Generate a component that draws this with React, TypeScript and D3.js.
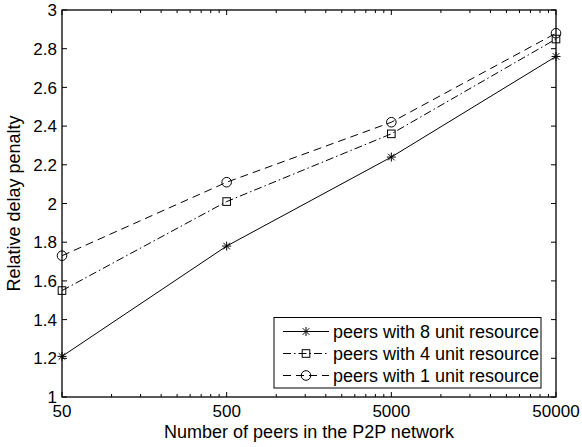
import React from "react";
import * as d3 from "d3";

const categories = [50, 500, 5000, 50000];
const xTickLabels = ["50", "500", "5000", "50000"];
const yTickValues = [1, 1.2, 1.4, 1.6, 1.8, 2, 2.2, 2.4, 2.6, 2.8, 3];
const yTickLabels = ["1", "1.2", "1.4", "1.6", "1.8", "2", "2.2", "2.4", "2.6", "2.8", "3"];
const series8 = [1.21, 1.78, 2.24, 2.76];
const series4 = [1.55, 2.01, 2.36, 2.85];
const series1 = [1.73, 2.11, 2.42, 2.88];
const seriesNames = [
  "peers with 8 unit resource",
  "peers with 4 unit resource",
  "peers with 1 unit resource",
];
const xTitle = "Number of peers in the P2P network";
const yTitle = "Relative delay penalty";

const W = 582, H = 447;
const L = 62, R = 556, T = 10, B = 397;
const FONT = "'Liberation Sans', Arial, Helvetica, sans-serif";

const x = d3.scaleLog().domain([50, 50000]).range([L, R]);
const y = d3.scaleLinear().domain([1, 3]).range([B, T]);

const minorTicks: number[] = [];
[50, 500, 5000].forEach((d) => {
  for (let k = 2; k <= 9; k++) minorTicks.push(d * k);
});

type Marker = "star" | "square" | "circle";
const seriesDefs: { values: number[]; dash: string; marker: Marker }[] = [
  { values: series8, dash: "none", marker: "star" },
  { values: series4, dash: "8,3,1.5,3", marker: "square" },
  { values: series1, dash: "8,5", marker: "circle" },
];

function MarkerShape({ type, cx, cy }: { type: Marker; cx: number; cy: number }) {
  const st = { stroke: "#000", strokeWidth: 1, fill: "none" } as const;
  if (type === "circle") return <circle cx={cx} cy={cy} r={4.8} {...st} />;
  if (type === "square") return <rect x={cx - 3.8} y={cy - 3.8} width={7.6} height={7.6} {...st} />;
  const s = 4.5, d = 3.3;
  return (
    <g {...st}>
      <line x1={cx - s} y1={cy} x2={cx + s} y2={cy} />
      <line x1={cx} y1={cy - s} x2={cx} y2={cy + s} />
      <line x1={cx - d} y1={cy - d} x2={cx + d} y2={cy + d} />
      <line x1={cx - d} y1={cy + d} x2={cx + d} y2={cy - d} />
    </g>
  );
}

export default function App() {
  const line = d3
    .line<number>()
    .x((_, i) => x(categories[i]))
    .y((v) => y(v));

  const legX0 = 274, legX1 = 541, legY0 = 317.5, legY1 = 388;
  const rowY = [331.5, 353.5, 375.5];

  return (
    <svg
      width={W}
      height={H}
      style={{ position: "absolute", left: 0, top: 0, background: "#fff" }}
      fontFamily={FONT}
    >
      <rect x={0} y={0} width={W} height={H} fill="#fff" />
      {/* series */}
      {seriesDefs.map((s, si) => (
        <g key={si}>
          <path d={line(s.values) || ""} fill="none" stroke="#000" strokeWidth={1} strokeDasharray={s.dash} />
          {s.values.map((v, i) => (
            <MarkerShape key={i} type={s.marker} cx={x(categories[i])} cy={y(v)} />
          ))}
        </g>
      ))}

      {/* ticks */}
      <g stroke="#000" strokeWidth={1}>
        {minorTicks.map((t) => (
          <g key={t}>
            <line x1={x(t)} x2={x(t)} y1={B} y2={B - 3} />
            <line x1={x(t)} x2={x(t)} y1={T} y2={T + 3} />
          </g>
        ))}
        {categories.map((t) => (
          <g key={t}>
            <line x1={x(t)} x2={x(t)} y1={B} y2={B - 5} />
            <line x1={x(t)} x2={x(t)} y1={T} y2={T + 5} />
          </g>
        ))}
        {yTickValues.map((t) => (
          <g key={t}>
            <line x1={L} x2={L + 5} y1={y(t)} y2={y(t)} />
            <line x1={R} x2={R - 5} y1={y(t)} y2={y(t)} />
          </g>
        ))}
      </g>
      {/* axes box */}
      <rect x={L} y={T} width={R - L} height={B - T} fill="none" stroke="#000" strokeWidth={1.3} />

      {/* tick labels */}
      {yTickValues.map((t, i) => (
        <text key={t} x={57} y={y(t)} dy="0.36em" textAnchor="end" fontSize={17}>
          {yTickLabels[i]}
        </text>
      ))}
      {categories.map((t, i) => (
        <text key={t} x={x(t)} y={417} textAnchor="middle" fontSize={17}>
          {xTickLabels[i]}
        </text>
      ))}

      {/* titles */}
      <text x={(L + R) / 2} y={438} textAnchor="middle" fontSize={18}>
        {xTitle}
      </text>
      <text transform={`translate(20,${(T + B) / 2}) rotate(-90)`} textAnchor="middle" fontSize={18}>
        {yTitle}
      </text>

      {/* legend */}
      <rect x={legX0} y={legY0} width={legX1 - legX0} height={legY1 - legY0} fill="#fff" stroke="#000" strokeWidth={1} />
      {seriesDefs.map((s, i) => (
        <g key={i}>
          <line x1={283} x2={329} y1={rowY[i]} y2={rowY[i]} stroke="#000" strokeWidth={1} strokeDasharray={s.dash} />
          <MarkerShape type={s.marker} cx={306} cy={rowY[i]} />
          <text x={333} y={rowY[i]} dy="0.36em" fontSize={18}>
            {seriesNames[i]}
          </text>
        </g>
      ))}
    </svg>
  );
}
